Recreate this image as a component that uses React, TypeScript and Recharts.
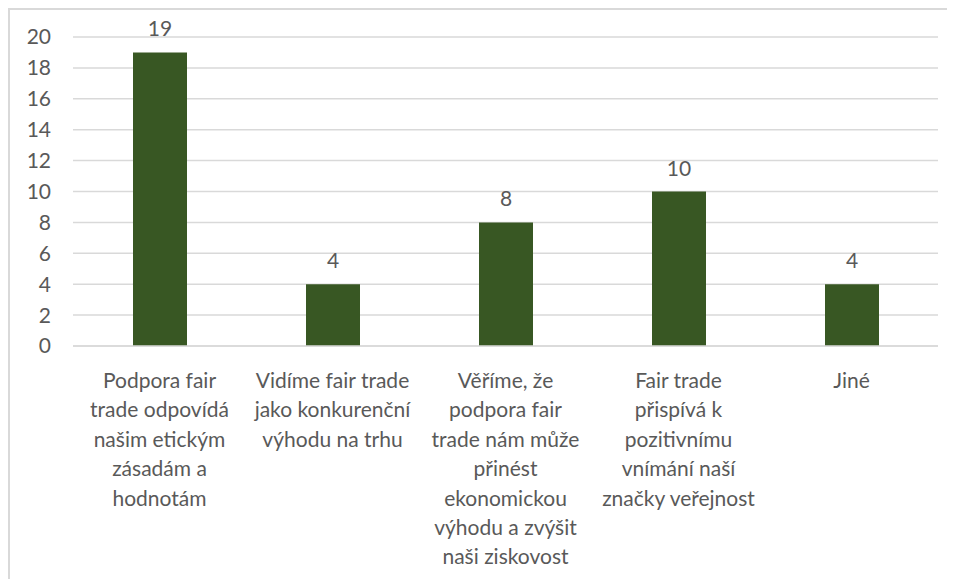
import { BarChart, Bar, XAxis, YAxis, CartesianGrid, LabelList } from 'recharts';

const categories = [
  'Podpora fair\ntrade odpovídá\nnašim etickým\nzásadám a\nhodnotám',
  'Vidíme fair trade\njako konkurenční\nvýhodu na trhu',
  'Věříme, že\npodpora fair\ntrade nám může\npřinést\nekonomickou\nvýhodu a zvýšit\nnaši ziskovost',
  'Fair trade\npřispívá k\npozitivnímu\nvnímání naší\nznačky veřejnost',
  'Jiné',
];
const counts = [19, 4, 8, 10, 4];
const yTicks = [0, 2, 4, 6, 8, 10, 12, 14, 16, 18, 20];

const data = categories.map((name, i) => ({ name, value: counts[i] }));

const FONT = 'Lato, "Open Sans", sans-serif';
const TEXT = '#595959';

const CategoryTick = (props: any) => {
  const { x, y, payload } = props;
  const lines = String(payload.value).split('\n');
  return (
    <text x={x} y={y + 40} textAnchor="middle" fill={TEXT} fontSize={21} fontFamily={FONT}>
      {lines.map((l: string, i: number) => (
        <tspan key={i} x={x} dy={i === 0 ? 0 : 29.4}>{l}</tspan>
      ))}
    </text>
  );
};

export default function App() {
  return (
    <div style={{ width: 947, height: 571, borderTop: '2px solid #d9d9d9', borderLeft: '2px solid #d9d9d9', boxSizing: 'border-box', background: '#fff' }}>
      <BarChart width={945} height={569} data={data} margin={{ top: 27, right: 17, left: 13, bottom: 8 }}>
        <CartesianGrid vertical={false} stroke="#d9d9d9" strokeWidth={1.5} />
        <XAxis
          dataKey="name"
          interval={0}
          tickLine={false}
          tickSize={0}
          axisLine={{ stroke: '#d9d9d9', strokeWidth: 1.5 }}
          tick={<CategoryTick />}
          height={225}
        />
        <YAxis
          domain={[0, 20]}
          ticks={yTicks}
          interval={0}
          tickLine={false}
          axisLine={false}
          tickSize={0}
          tickMargin={22}
          width={50}
          tick={{ fill: TEXT, fontSize: 21, fontFamily: FONT }}
        />
        <Bar dataKey="value" fill="#385723" barSize={54} isAnimationActive={false}>
          <LabelList dataKey="value" position="top" offset={16} fill={TEXT} fontSize={21} fontFamily={FONT} />
        </Bar>
      </BarChart>
    </div>
  );
}
